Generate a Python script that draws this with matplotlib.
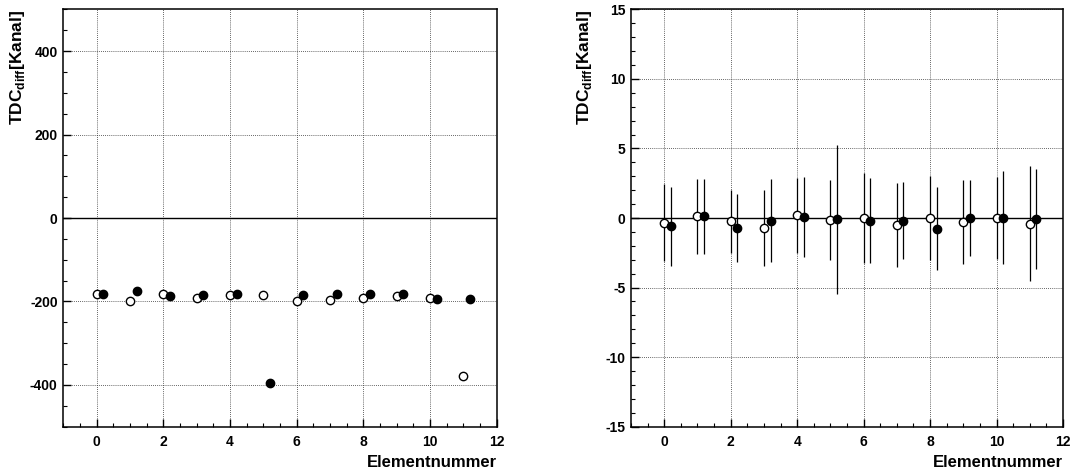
import matplotlib
matplotlib.use("Agg")
import matplotlib.pyplot as plt
from matplotlib.ticker import MultipleLocator
import numpy as np

plt.rcParams['font.family'] = ['Liberation Sans', 'DejaVu Sans']
plt.rcParams['font.weight'] = 'bold'
plt.rcParams['axes.unicode_minus'] = False
plt.rcParams['mathtext.fontset'] = 'custom'
plt.rcParams['mathtext.bf'] = 'Liberation Sans:bold'
plt.rcParams['mathtext.rm'] = 'Liberation Sans:bold'

# ---- data ----
elements = list(range(12))
offset = 0.2

left_open = [-181, -200, -183, -192, -184, -184, -200, -197, -191, -188, -191, -378]
left_filled = [-181, -176, -186, -184, -182, -396, -185, -181, -181, -183, -194, -193]

right_open = [-0.34, 0.12, -0.24, -0.72, 0.18, -0.17, 0.0, -0.50, -0.02, -0.28, 0.0, -0.41]
right_open_err = [2.75, 2.69, 2.28, 2.72, 2.66, 2.88, 3.27, 3.03, 3.03, 3.04, 2.94, 4.13]
right_filled = [-0.58, 0.13, -0.70, -0.19, 0.08, -0.08, -0.18, -0.19, -0.76, 0.0, 0.02, -0.07]
right_filled_err = [2.84, 2.70, 2.45, 3.00, 2.87, 5.35, 3.02, 2.77, 2.97, 2.75, 3.34, 3.62]

xlabel = "Elementnummer"
ylabel = r"$\mathbf{TDC}_{\mathbf{diff}}\mathbf{[Kanal]}$"

fig = plt.figure(figsize=(10.73, 4.71), dpi=100)
ax1 = fig.add_axes([63.3/1073, 1-426.7/471, (496.7-63.3)/1073, (426.7-9.3)/471])
ax2 = fig.add_axes([631/1073, 1-426.7/471, (1063-631)/1073, (426.7-9.3)/471])

def style(ax, ylim, ymaj, ymin):
    ax.set_xlim(-1, 12)
    ax.set_ylim(*ylim)
    ax.xaxis.set_major_locator(MultipleLocator(2))
    ax.xaxis.set_minor_locator(MultipleLocator(0.5))
    ax.yaxis.set_major_locator(MultipleLocator(ymaj))
    ax.yaxis.set_minor_locator(MultipleLocator(ymin))
    ax.tick_params(which='major', direction='in', length=5.5, width=1.0,
                   labelsize=10, top=False, right=False, pad=4)
    ax.tick_params(which='minor', direction='in', length=3, width=0.8,
                   top=False, right=False)
    ax.tick_params(axis='x', which='major', pad=6)
    for s in ax.spines.values():
        s.set_linewidth(1.1)
    ax.grid(True, which='major', color='#333333', linestyle=(0, (1, 1.5)), linewidth=0.6)
    ax.set_axisbelow(True)
    ax.axhline(0, color='black', linewidth=1.0, zorder=1.5)
    ax.text(1.0, -0.085, xlabel, transform=ax.transAxes, ha='right', va='center',
            fontsize=12, fontweight='bold')

style(ax1, (-500, 500), 200, 50)
style(ax2, (-15, 15), 5, 1)

ax1.text(-0.105, 1.0, ylabel, transform=ax1.transAxes, rotation=90, ha='center', va='top', fontsize=12.5)
ax2.text(-0.107, 1.0, ylabel, transform=ax2.transAxes, rotation=90, ha='center', va='top', fontsize=12.5)

x_open = np.array(elements, dtype=float)
x_filled = x_open + offset

ax1.plot(x_open, left_open, linestyle='none', marker='o', markersize=6,
         markerfacecolor='white', markeredgecolor='black', markeredgewidth=1.0, zorder=3)
ax1.plot(x_filled, left_filled, linestyle='none', marker='o', markersize=6,
         markerfacecolor='black', markeredgecolor='black', zorder=3)

ax2.errorbar(x_open, right_open, yerr=right_open_err, linestyle='none', marker='o', markersize=6,
             markerfacecolor='white', markeredgecolor='black', markeredgewidth=1.0,
             ecolor='black', elinewidth=0.9, capsize=0, zorder=3)
ax2.errorbar(x_filled, right_filled, yerr=right_filled_err, linestyle='none', marker='o', markersize=6,
             markerfacecolor='black', markeredgecolor='black',
             ecolor='black', elinewidth=0.9, capsize=0, zorder=3)

for ax in (ax1, ax2):
    for lab in ax.get_xticklabels() + ax.get_yticklabels():
        lab.set_fontweight('bold')

fig.savefig("out.png", dpi=100)
